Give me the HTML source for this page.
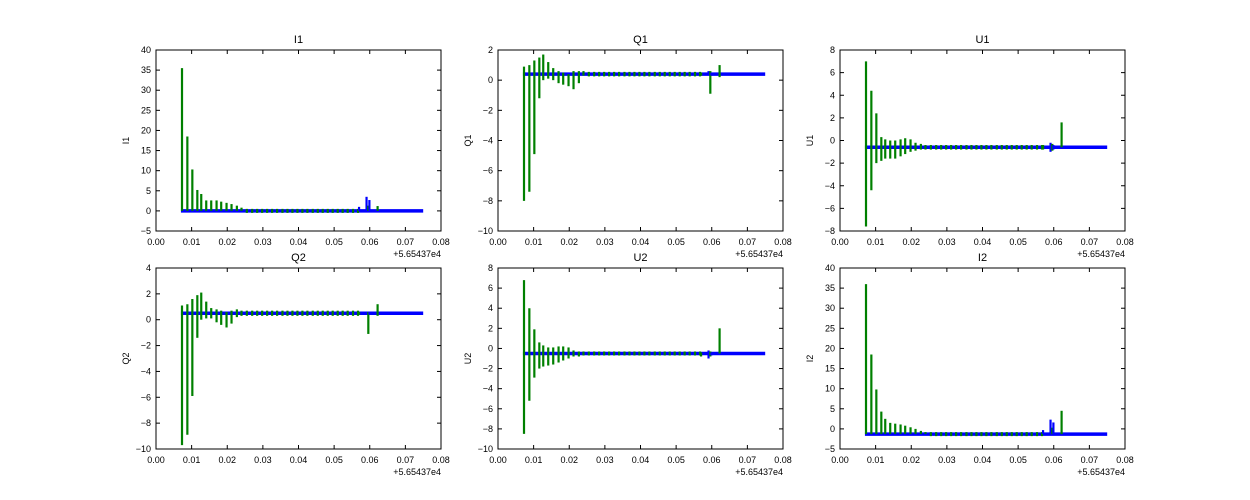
<!DOCTYPE html>
<html><head><meta charset="utf-8">
<style>
html,body{margin:0;padding:0;background:#fff;}
svg{display:block;font-family:"Liberation Sans",sans-serif;}
</style></head>
<body>
<svg id="fig" width="1250" height="500"></svg>
<script>
// ---- data ----
const panelNames = ["I1","Q1","U1","Q2","U2","I2"];
const yMins = [-5,-10,-8,-10,-10,-5];
const yMaxs = [40,2,8,4,8,40];
const yTickSteps = [5,2,2,2,2,5];
const baselines = [0,0.4,-0.6,0.5,-0.5,-1.3];
const xTicks = [0,0.01,0.02,0.03,0.04,0.05,0.06,0.07,0.08];
const xTickLabels = ["0.00","0.01","0.02","0.03","0.04","0.05","0.06","0.07","0.08"];
const baseStart = 0.007, baseEnd = 0.075;
const spikeX = [0.0073,0.0088,0.0102,0.0116,0.0127,0.0141,0.0155,0.0170,0.0183,0.0198,0.0212,0.0227,0.0240];
const spikeLo = [
 [0,0,0,0,0,0,0,0,0,0,0,0,0],
 [-8,-7.4,-4.9,-1.2,0.0,0.1,0.0,-0.2,-0.3,-0.4,-0.6,-0.2,0.3],
 [-7.6,-4.4,-2.0,-1.8,-1.6,-1.6,-1.6,-1.4,-1.2,-1.0,-0.9,-0.8,-0.8],
 [-9.7,-8.9,-5.9,-1.4,0,0.1,0.1,-0.2,-0.4,-0.6,-0.3,0.2,0.3],
 [-8.5,-5.2,-2.9,-2.0,-1.8,-1.7,-1.6,-1.4,-1.2,-1.0,-0.8,-0.8,-0.7],
 [-1.3,-1.3,-1.3,-1.3,-1.3,-1.3,-1.3,-1.3,-1.3,-1.3,-1.3,-1.3,-1.3]
];
const spikeHi = [
 [35.5,18.5,10.3,5.2,4.2,2.6,2.6,2.6,2.3,2.0,1.7,1.3,0.8],
 [0.9,1.0,1.3,1.5,1.7,1.2,0.8,0.6,0.5,0.4,0.6,0.6,0.6],
 [7.0,4.4,2.4,0.3,0.1,0.0,0.0,0.1,0.2,0.1,-0.2,-0.3,-0.4],
 [1.1,1.2,1.6,1.9,2.1,1.4,0.9,0.8,0.7,0.6,0.7,0.8,0.7],
 [6.8,4.0,1.9,0.6,0.3,0.1,0.1,0.2,0.2,0.1,-0.2,-0.3,-0.3],
 [36,18.5,9.8,4.3,2.5,1.5,1.3,1.1,0.8,0.4,0.0,-0.5,-0.8]
];
const smallX = [0.0255,0.0270,0.0284,0.0298,0.0312,0.0326,0.0340,0.0355,0.0369,0.0383,0.0397,0.0411,0.0425,0.0440,0.0454,0.0468,0.0482,0.0496,0.0510,0.0524,0.0538,0.0553,0.0567];
const smallAmp = [0.5,0.15,0.2,0.2,0.2,0.5];
const lateX = [0.0570,0.0591,0.0596,0.0599,0.0622];
const lateLo = [
 [0,0,0,0,0],[0.3,0.4,-0.9,0.3,0.2],[-0.8,-1.0,-0.9,-0.8,-0.6],
 [0.4,0.4,-1.1,0.4,0.3],[-0.8,-1.0,-0.8,-0.7,-0.5],[-1.3,-1.3,-1.3,-1.3,-1.3]
];
const lateHi = [
 [1.0,3.5,1.3,2.7,1.2],[0.5,0.6,0.6,0.5,1.0],[-0.4,-0.2,-0.3,-0.4,1.6],
 [0.6,0.6,0.6,0.6,1.2],[-0.4,-0.2,-0.3,-0.4,2.0],[-0.3,2.3,0.3,1.6,4.5]
];
const lateIsBlue = [
 [true,true,false,true,false],[false,true,false,true,false],[false,true,false,true,false],
 [false,true,false,true,false],[false,true,false,true,false],[true,true,false,true,false]
];
// ---- drawing ----
const NS = "http://www.w3.org/2000/svg";
const svg = document.getElementById("fig");
function mk(tag, attrs, parent){const e=document.createElementNS(NS,tag);for(const k in attrs)e.setAttribute(k,attrs[k]);(parent||svg).appendChild(e);return e;}
const lefts=[156,498,840], tops=[50,268], W=285, H=181;
panelNames.forEach((name,i)=>{
  const L=lefts[i%3], T=tops[Math.floor(i/3)];
  const g=mk("g",{});
  
  
  const xs=v=>L+(v/0.08)*W;
  const ys=v=>T+H-(v-yMins[i])/(yMaxs[i]-yMins[i])*H;
  const clip=mk("clipPath",{id:"c"+i},g);mk("rect",{x:L,y:T,width:W,height:H},clip);
  const d=mk("g",{"clip-path":"url(#c"+i+")"},g);
  // blue baseline
  const bl=mk("line",{x1:xs(baseStart),x2:xs(baseEnd),y1:ys(baselines[i]),y2:ys(baselines[i]),stroke:"#0000ff","stroke-width":3.5},d);
  
  
  // small spikes
  smallX.forEach(x=>{
    const s=mk("line",{x1:xs(x),x2:xs(x),y1:ys(baselines[i]-smallAmp[i]),y2:ys(baselines[i]+smallAmp[i]),stroke:"#008000","stroke-width":2.2},d);
    
    
  });
  spikeX.forEach((x,j)=>{
    const s=mk("line",{x1:xs(x),x2:xs(x),y1:ys(spikeLo[i][j]),y2:ys(spikeHi[i][j]),stroke:"#008000","stroke-width":2.2},d);
    
    
  });
  lateX.forEach((x,j)=>{
    const s=mk("line",{x1:xs(x),x2:xs(x),y1:ys(lateLo[i][j]),y2:ys(lateHi[i][j]),stroke:lateIsBlue[i][j]?"#0000ff":"#008000","stroke-width":2.2},d);
    
    
  });
  // frame
  mk("rect",{x:L,y:T,width:W,height:H,fill:"none",stroke:"#000","stroke-width":1},g);
  // x ticks
  xTicks.forEach((v,k)=>{
    const x=xs(v);
    mk("line",{x1:x,x2:x,y1:T+H,y2:T+H-4,stroke:"#000"},g);
    mk("line",{x1:x,x2:x,y1:T,y2:T+4,stroke:"#000"},g);
    const t=mk("text",{x:x,y:T+H+14,"font-size":9,"text-anchor":"middle"},g);t.textContent=xTickLabels[k];
    
    
  });
  for(let v=yMins[i];v<=yMaxs[i]+1e-9;v+=yTickSteps[i]){
    const y=ys(v);
    mk("line",{x1:L,x2:L+4,y1:y,y2:y,stroke:"#000"},g);
    mk("line",{x1:L+W,x2:L+W-4,y1:y,y2:y,stroke:"#000"},g);
    const t=mk("text",{x:L-5,y:y+3,"font-size":9,"text-anchor":"end"},g);t.textContent=(v<0?"\u2212":"")+Math.abs(v);
    
    
  }
  const off=mk("text",{x:L+W,y:T+H+26,"font-size":9,"text-anchor":"end"},g);off.textContent="+5.65437e4";
  
  
  const ti=mk("text",{x:L+W/2,y:T-7,"font-size":11,"text-anchor":"middle"},g);ti.textContent=name;
  
  
  const yl=mk("text",{x:0,y:0,"font-size":9,"text-anchor":"middle",transform:"translate("+(L-27)+","+(T+H/2)+") rotate(-90)"},g);yl.textContent=name;
  
  
});
</script>
</body></html>
